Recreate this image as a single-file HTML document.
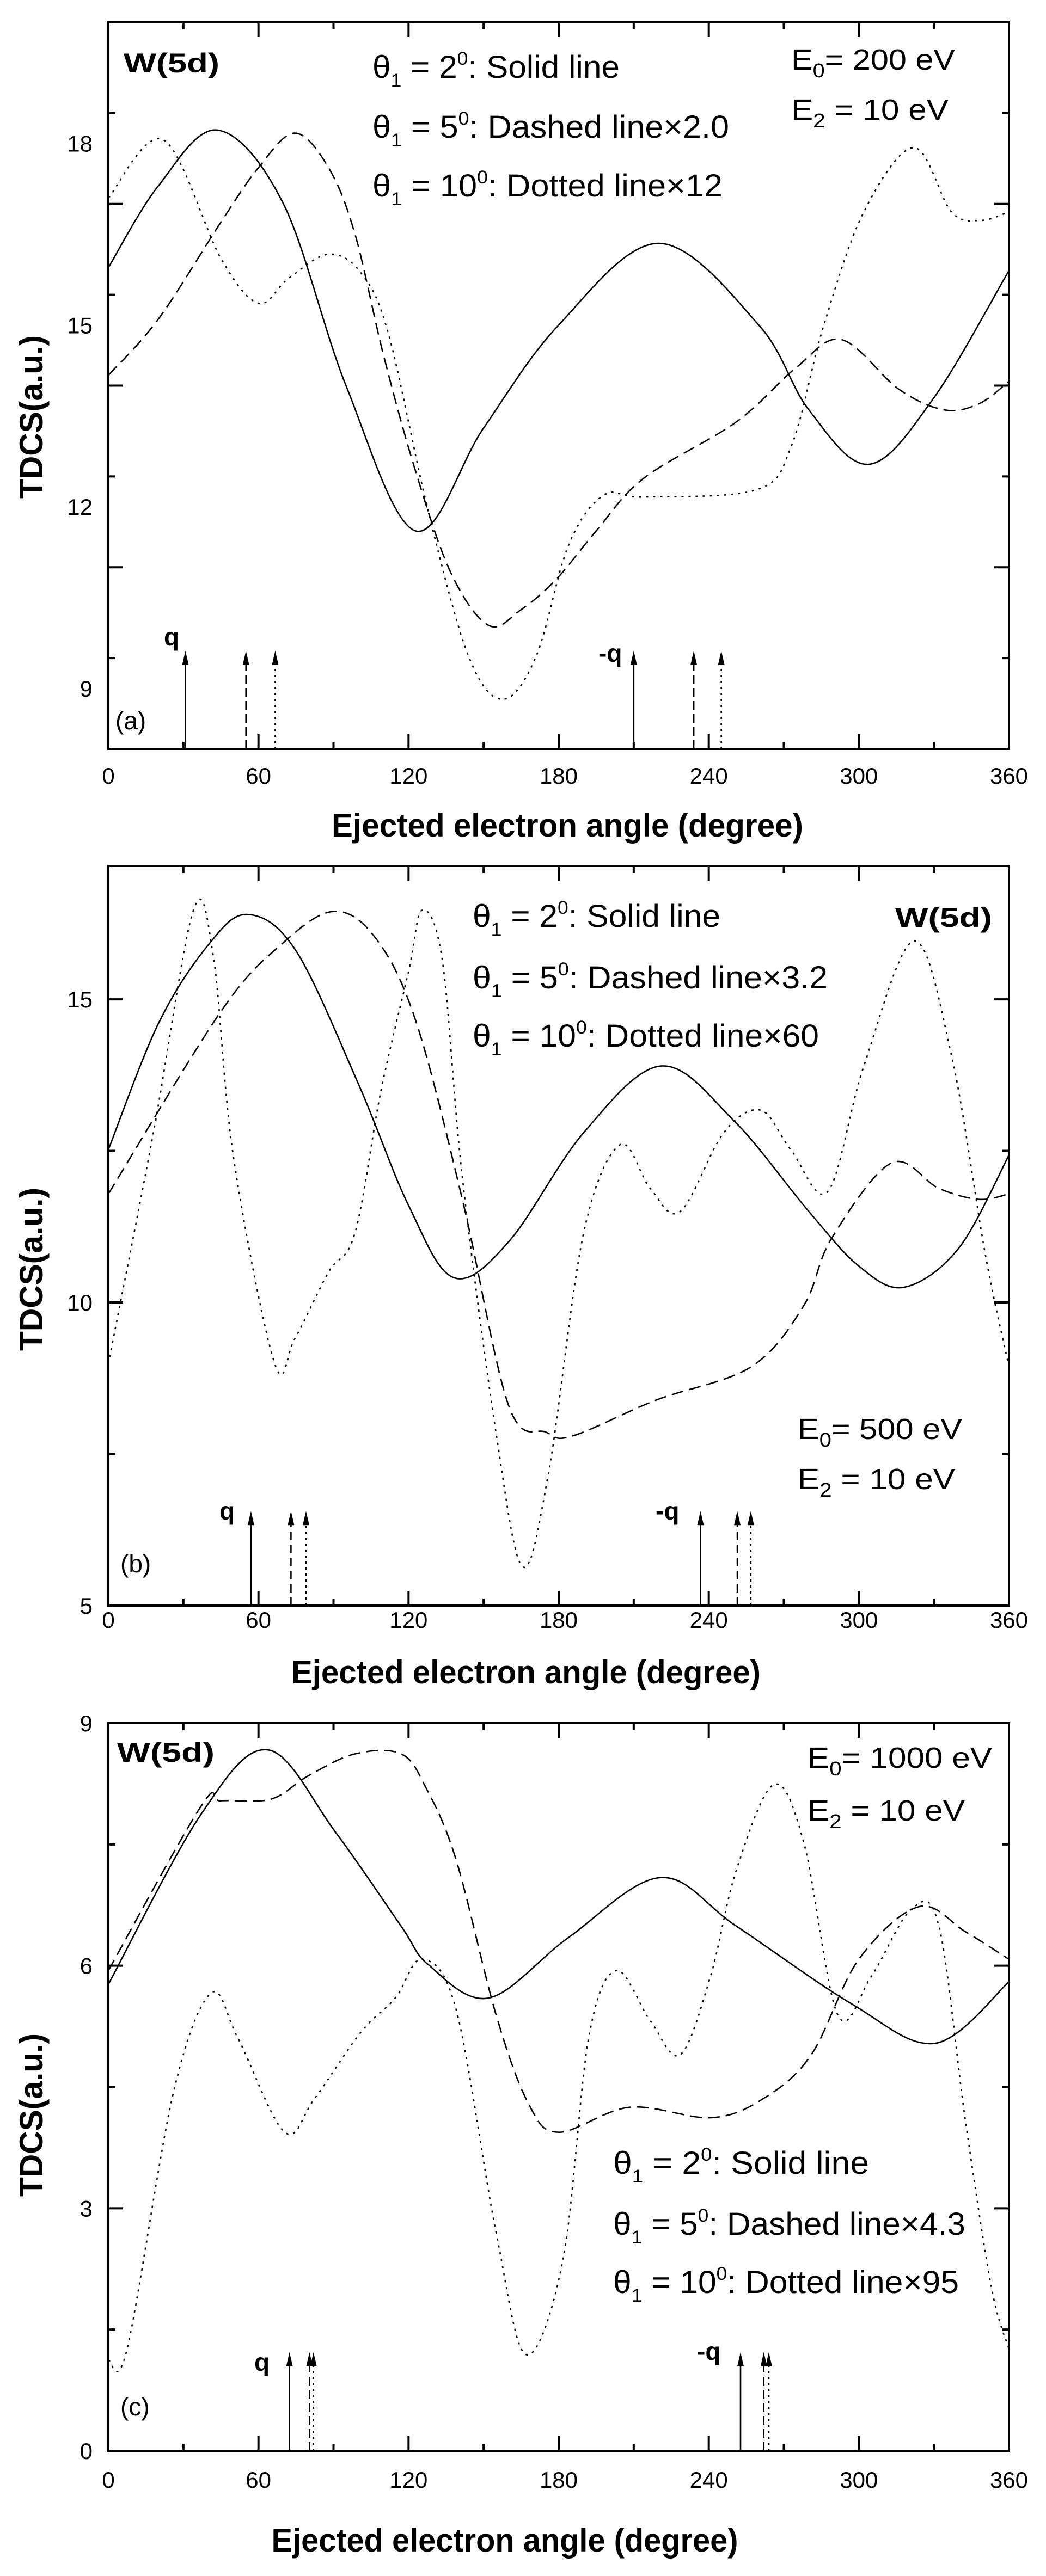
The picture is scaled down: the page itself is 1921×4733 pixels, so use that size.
<!DOCTYPE html>
<html><head><meta charset="utf-8">
<style>
html,body{margin:0;padding:0;background:#fff;}
svg{display:block;}
text{font-family:"Liberation Sans",Arial,sans-serif;fill:#000;}
</style></head>
<body>
<svg id="s" width="1921" height="4733" viewBox="0 0 1921 4733" xmlns="http://www.w3.org/2000/svg">
<rect width="1921" height="4733" fill="#fff"/>
<g id="g"></g>
</svg>
<script>
var NS="http://www.w3.org/2000/svg";
var G=document.getElementById('g');
function el(t,a,txt){var e=document.createElementNS(NS,t);for(var k in a)e.setAttribute(k,a[k]);if(txt!==undefined)e.textContent=txt;G.appendChild(e);return e;}
function txt(x,y,html,size,opts){opts=opts||{};
 var s='<text x="'+x+'" y="'+y+'" font-size="'+size+'"'+(opts.bold?' font-weight="bold"':'')+(opts.anchor?' text-anchor="'+opts.anchor+'"':'')+(opts.len?' textLength="'+opts.len+'" lengthAdjust="spacingAndGlyphs"':'')+(opts.tr?' transform="'+opts.tr+'"':'')+'>'+html+'</text>';
 G.insertAdjacentHTML('beforeend',s);}
var X0=199,X1=1853;
function panel(P){
 var fx=function(a){return X0+(a/360)*(X1-X0);};
 var fy=function(v){return P.bot-(v-P.ymin)/(P.ymax-P.ymin)*(P.bot-P.top);};
 // ticks
 var d='';
 for(var a=0;a<=360;a+=30){var L=(a%60==0)?27:13;var x=fx(a);d+='M'+x+' '+P.bot+'v'+(-L)+'M'+x+' '+P.top+'v'+L;}
 for(var v=P.ymin;v<=P.ymax+1e-9;v+=P.minor){var maj=Math.abs(((v-P.ymin)/P.major)-Math.round((v-P.ymin)/P.major))<1e-6;var L=maj?27:13;var y=fy(v);d+='M'+X0+' '+y+'h'+L+'M'+X1+' '+y+'h'+(-L);}
 el('path',{d:d,stroke:'#000','stroke-width':4,fill:'none'});
 el('rect',{x:X0,y:P.top,width:X1-X0,height:P.bot-P.top,fill:'none',stroke:'#000','stroke-width':4});
 for(var a=0;a<=360;a+=60)txt(fx(a),P.tl,a,42,{anchor:'middle'});
 P.ylabs.forEach(function(v){txt(170,fy(v)+15,v,42,{anchor:'end'});});
 txt(57,P.ylc+0,'TDCS(a.u.)',60,{bold:1,anchor:'middle',len:300,tr:'rotate(-90 57 '+P.ylc+') translate(0 21)'});
 txt(P.xtc,P.xtb,'Ejected electron angle (degree)',60,{bold:1,anchor:'middle',len:P.xtw});
 // curves
 function path(pts){var p=pts.map(function(q){return [fx(q[0]),fy(q[1])];});var s='M'+p[0][0]+' '+p[0][1];
  for(var i=0;i<p.length-1;i++){var p0=p[i-1]||p[i],p1=p[i],p2=p[i+1],p3=p[i+2]||p[i+1];var t=6;
   s+='C'+(p1[0]+(p2[0]-p0[0])/t)+' '+(p1[1]+(p2[1]-p0[1])/t)+' '+(p2[0]-(p3[0]-p1[0])/t)+' '+(p2[1]-(p3[1]-p1[1])/t)+' '+p2[0]+' '+p2[1];}
  return s;}
 el('path',{d:path(P.solid),stroke:'#000','stroke-width':2.6,fill:'none'});
 el('path',{d:path(P.dash),stroke:'#000','stroke-width':2.6,fill:'none','stroke-dasharray':'22 11'});
 el('path',{d:path(P.dot),stroke:'#000','stroke-width':2.6,fill:'none','stroke-dasharray':'4 9'});
 // arrows
 P.arrows.forEach(function(A){var x=fx(A[0]),yt=fy(P.atop);var da=A[1]==1?'':(A[1]==2?'16 8':'4 7');
  var o={d:'M'+x+' '+P.bot+'V'+(yt+20),stroke:'#000','stroke-width':2.6,fill:'none'};if(da)o['stroke-dasharray']=da;el('path',o);
  el('path',{d:'M'+x+' '+yt+'L'+(x-6)+' '+(yt+26)+'L'+(x+6)+' '+(yt+26)+'Z',fill:'#000'});});
 P.texts.forEach(function(t){txt(t[0],t[1],t[2],t[3],t[4]);});
}
var th=function(n,rest){return '&#952;<tspan font-size="34" dy="16">1</tspan><tspan dy="-16"> = '+n+'</tspan><tspan font-size="34" dy="-24">0</tspan><tspan dy="24">'+rest+'</tspan>';};
var E0=function(v){return 'E<tspan font-size="36" dy="14">0</tspan><tspan dy="-14">= '+v+' eV</tspan>';};
var E2='E<tspan font-size="36" dy="14">2</tspan><tspan dy="-14"> = 10 eV</tspan>';
panel({top:41,bot:1376,ymin:8,ymax:20,major:3,minor:1.5,ylabs:[9,12,15,18],tl:1440,ylc:766,xtc:1042,xtb:1537,xtw:866,atop:9.62,
 solid:[[0,15.95],[20,17.3],[43.7,18.22],[70,17.0],[95,14.0],[122.8,11.6],[150,13.3],[180,15.0],[220,16.35],[260,15.0],[280,13.6],[304,12.7],[330,13.8],[360,15.9]],
 dash:[[0,14.17],[20,15.1],[45,16.7],[60,17.6],[74.5,18.17],[88,17.6],[98.6,16.5],[110,14.5],[123,12.56],[137,10.9],[152,10.04],[165,10.3],[179,10.8],[195,11.6],[214,12.47],[251,13.4],[275,14.3],[293,14.76],[316,13.94],[334,13.6],[348,13.7],[360,14.07]],
 dot:[[0,17.1],[22,18.06],[45,16.1],[60,15.36],[72,15.77],[88,16.17],[101,15.86],[112,14.85],[128,11.9],[144,9.53],[157.6,8.82],[171,9.53],[184,11.37],[198,12.19],[214,12.16],[259,12.28],[273,13.0],[286,15.0],[302,16.87],[322,17.93],[337,16.87],[349,16.73],[360,16.87]],
 arrows:[[30.8,1],[55,2],[66.7,3],[210,1],[234,2],[245,3]],
 texts:[[227,133,'W(5d)',50,{bold:1,len:176}],[684,143,th(2,': Solid line'),58,{len:454}],[684,253,th(5,': Dashed line&#215;2.0'),58,{len:655}],[684,361,th(10,': Dotted line&#215;12'),58,{len:643}],
 [1453,128,E0(200),54,{len:301}],[1453,220,E2,54,{len:289}],[212,1340,'(a)',46,{}],[301,1186,'q',46,{bold:1}],[1099,1216,'-q',46,{bold:1}]]});
panel({top:1591,bot:2950,ymin:5,ymax:17.2,major:5,minor:2.5,ylabs:[5,10,15],tl:2991,ylc:2332,xtc:966,xtb:3093,xtw:862,atop:6.56,
 solid:[[0,12.52],[20,14.6],[40,15.9],[55.7,16.4],[75,15.8],[100,13.6],[120,11.6],[138,10.41],[160,11.0],[190,12.8],[221,13.9],[250,13.0],[280,11.5],[300,10.6],[318,10.25],[340,10.9],[360,12.43]],
 dash:[[0,11.79],[45,14.8],[69,15.9],[90,16.45],[107,16.0],[123,14.63],[141.5,11.7],[160,8.3],[175,7.86],[185.7,7.8],[219,8.39],[257,8.94],[278,9.95],[289,11.05],[313,12.3],[332,11.88],[348,11.7],[360,11.79]],
 dot:[[0,8.99],[18,12.8],[34,16.47],[42,15.7],[50,12.4],[66.5,8.99],[74.5,9.4],[88,10.5],[98.6,11.15],[109,13.5],[120,15.46],[125.4,16.47],[133.5,15.64],[141.5,12.06],[155,7.84],[165.6,5.64],[176,7.2],[190,11.15],[204.5,12.6],[216.6,11.88],[228.6,11.5],[246,12.8],[260.8,13.17],[272.8,12.52],[287.6,11.83],[302,13.9],[322,15.96],[337,14.08],[350.6,10.78],[360,8.94]],
 arrows:[[57,1],[73,2],[79,3],[236.7,1],[251.4,2],[256.8,3]],
 texts:[[1644,1703,'W(5d)',50,{bold:1,len:178}],[868,1703,th(2,': Solid line'),58,{len:455}],[868,1816,th(5,': Dashed line&#215;3.2'),58,{len:652}],[868,1923,th(10,': Dotted line&#215;60'),58,{len:636}],
 [1465,2644,E0(500),54,{len:302}],[1465,2736,E2,54,{len:289}],[221,2889,'(b)',46,{}],[403,2792,'q',46,{bold:1}],[1204,2792,'-q',46,{bold:1}]]});
panel({top:3166,bot:4503,ymin:0,ymax:9,major:3,minor:1.5,ylabs:[0,3,6,9],tl:4571,ylc:3886,xtc:927,xtb:4688,xtw:857,atop:1.22,
 solid:[[0,5.77],[37,7.87],[63.8,8.67],[90.6,7.66],[117,6.49],[128,6.01],[152,5.6],[184,6.35],[220.6,7.09],[251,6.49],[297,5.53],[330.5,5.04],[360,5.8]],
 dash:[[0,5.94],[37,7.97],[45,8.04],[65,8.06],[80,8.35],[98.6,8.62],[117,8.62],[126.8,8.21],[139,7.31],[155,5.39],[168,4.29],[180,3.94],[208.5,4.25],[241,4.12],[262,4.36],[281,4.9],[300,6.08],[324,6.73],[342.6,6.42],[360,6.08]],
 dot:[[0,1.12],[7.5,1.26],[26,4.43],[41,5.66],[51.7,5.11],[70.5,3.94],[82.5,4.36],[101,5.18],[114.7,5.6],[125.4,6.08],[139,5.46],[155,2.7],[167,1.19],[181.7,2.36],[192,5.11],[203,5.94],[216.6,5.32],[228.6,4.9],[240.7,5.87],[251,7.18],[266,8.24],[278,7.52],[291.6,5.39],[305,5.87],[321,6.7],[332,6.49],[342.6,4.08],[353,2.02],[360,1.26]],
 arrows:[[72.4,1],[80.4,2],[82,3],[252.7,1],[262,2],[264,3]],
 texts:[[215,3237,'W(5d)',50,{bold:1,len:179}],[1126,3994,th(2,': Solid line'),58,{len:470}],[1126,4106,th(5,': Dashed line&#215;4.3'),58,{len:647}],[1126,4213,th(10,': Dotted line&#215;95'),58,{len:635}],
 [1483,3248,E0(1000),54,{len:339}],[1483,3345,E2,54,{len:289}],[221,4438,'(c)',46,{}],[467,4356,'q',46,{bold:1}],[1280,4336,'-q',46,{bold:1}]]});
</script>
</body></html>
